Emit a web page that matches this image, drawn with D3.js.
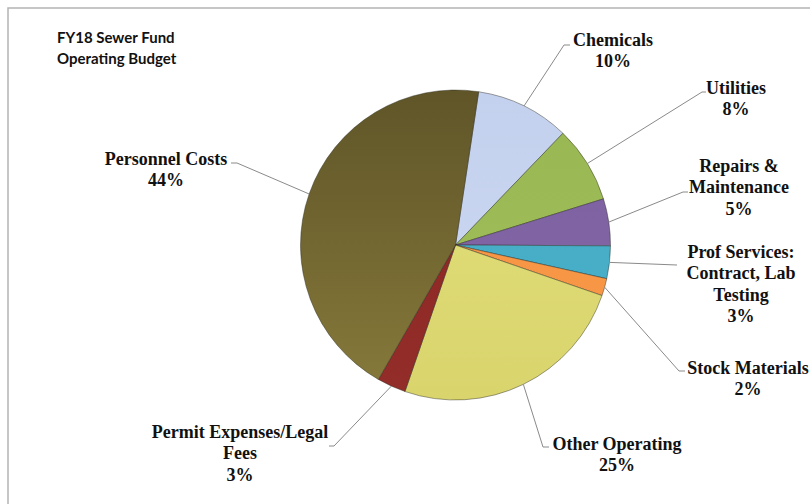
<!DOCTYPE html>
<html>
<head>
<meta charset="utf-8">
<script src="https://cdn.jsdelivr.net/npm/d3@7"></script>
<style>
  html, body { margin: 0; padding: 0; background: #fff; }
  svg { display: block; }
</style>
</head>
<body>
<svg id="chart" width="810" height="504"></svg>
<script>
// ---- Data ----
const categories = ["Chemicals", "Utilities", "Repairs & Maintenance", "Prof Services: Contract, Lab Testing", "Stock Materials", "Other Operating", "Permit Expenses/Legal Fees", "Personnel Costs"];
const values = [9.8, 8.0, 4.9, 3.4, 1.8, 25.0, 3.0, 44.1];
const labelLines = [
  ["Chemicals"],
  ["Utilities"],
  ["Repairs &", "Maintenance"],
  ["Prof Services:", "Contract, Lab", "Testing"],
  ["Stock Materials"],
  ["Other Operating"],
  ["Permit Expenses/Legal", "Fees"],
  ["Personnel Costs"]
];
const titleLines = ["FY18 Sewer Fund", "Operating Budget"];

// ---- Styles / layout ----
const colorsTop = ["#c4d1ee", "#98b752", "#7b5f9f", "#43a9c3", "#f6913f", "#e4e17c", "#8a2622", "#5f5528"];
const colorsBottom = ["#ccd8f2", "#a2c05c", "#8468a8", "#4bb2cc", "#f89a4a", "#d9d46c", "#932d29", "#877a3b"];
const labelPos = [
  {x: 613, y: 46, elbow: [564, 45], tail: 570},
  {x: 736, y: 94, elbow: [702, 92], tail: 706},
  {x: 739, y: 172, elbow: [683, 192], tail: 688},
  {x: 741, y: 258, elbow: [677, 265], tail: 677},
  {x: 748, y: 374, elbow: [679, 371], tail: 685},
  {x: 617, y: 450, elbow: [543, 447], tail: 549},
  {x: 240, y: 438, elbow: [334, 446], tail: 329},
  {x: 166, y: 165, elbow: [237, 163], tail: 231}
];

const svg = d3.select("#chart");
const W = 810, H = 504;
const cx = 455.5, cy = 245, R = 155;
const startDeg = 8.6;

svg.append("rect").attr("x", 0).attr("y", 0).attr("width", W).attr("height", H).attr("fill", "#fff");
svg.append("rect").attr("x", 8).attr("y", 8).attr("width", W + 20).attr("height", H + 20)
  .attr("fill", "none").attr("stroke", "#b4b4b4").attr("stroke-width", 1.5);

// gradients
const defs = svg.append("defs");
colorsTop.forEach((c, i) => {
  const lg = defs.append("linearGradient").attr("id", "grad" + i)
    .attr("gradientUnits", "userSpaceOnUse")
    .attr("x1", 0).attr("y1", -R).attr("x2", 0).attr("y2", R);
  lg.append("stop").attr("offset", "0%").attr("stop-color", c);
  lg.append("stop").attr("offset", "100%").attr("stop-color", colorsBottom[i]);
});

// Title
const title = svg.append("text")
  .attr("font-family", "Lato, 'Open Sans', sans-serif")
  .attr("font-weight", "bold")
  .attr("font-size", 15)
  .attr("fill", "#111");
titleLines.forEach((t, i) => {
  title.append("tspan").attr("x", 57).attr("y", 43 + i * 21).text(t);
});

const pie = d3.pie().sort(null).value(d => d)
  .startAngle(startDeg * Math.PI / 180)
  .endAngle(startDeg * Math.PI / 180 + 2 * Math.PI);
const arcs = pie(values);
const arc = d3.arc().innerRadius(0).outerRadius(R);

const g = svg.append("g").attr("transform", `translate(${cx},${cy})`);
g.selectAll("path.slice").data(arcs).enter().append("path")
  .attr("class", "slice")
  .attr("d", arc)
  .attr("fill", (d, i) => `url(#grad${i})`)
  .attr("stroke", "rgba(40,40,30,0.55)")
  .attr("stroke-width", 0.8);

// Leader lines
const total = d3.sum(values);
arcs.forEach((d, i) => {
  const mid = (d.startAngle + d.endAngle) / 2;
  const sx = cx + R * Math.sin(mid), sy = cy - R * Math.cos(mid);
  const p = labelPos[i];
  svg.append("polyline")
    .attr("points", `${sx},${sy} ${p.elbow[0]},${p.elbow[1]} ${p.tail},${p.elbow[1]}`)
    .attr("fill", "none")
    .attr("stroke", "#8a8a8a")
    .attr("stroke-width", 1);
});

// Labels
arcs.forEach((d, i) => {
  const p = labelPos[i];
  const lines = labelLines[i].concat([Math.round(values[i] / total * 100) + "%"]);
  const t = svg.append("text")
    .attr("font-family", "'Liberation Serif', 'Times New Roman', serif")
    .attr("font-weight", "bold")
    .attr("font-size", 18)
    .attr("fill", "#111")
    .attr("text-anchor", "middle");
  lines.forEach((s, j) => {
    t.append("tspan").attr("x", p.x).attr("y", p.y + j * 21.3).text(s);
  });
});
</script>
</body>
</html>
